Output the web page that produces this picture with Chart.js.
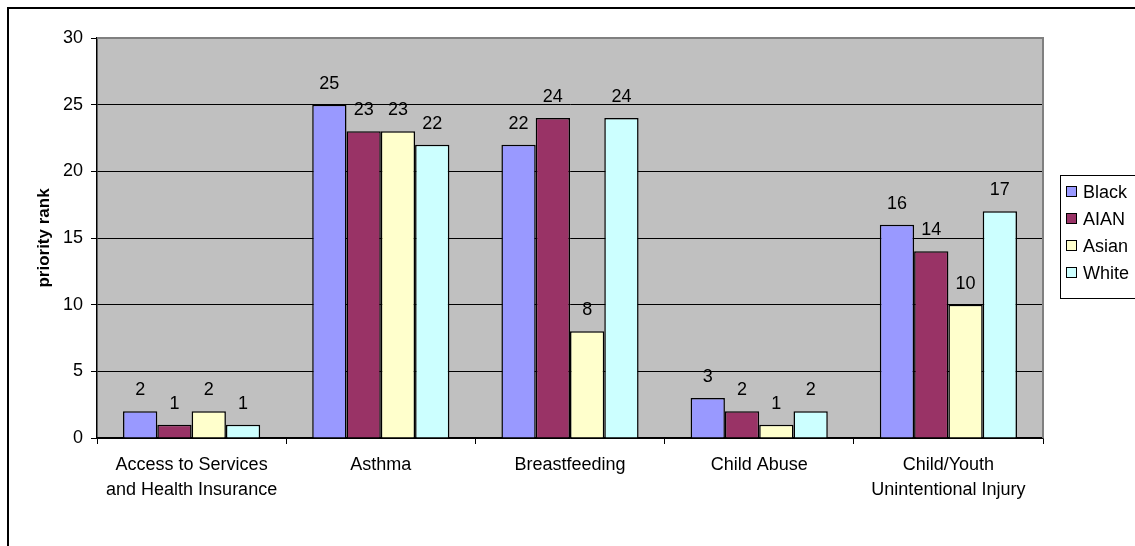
<!DOCTYPE html>
<html>
<head>
<meta charset="utf-8">
<script src="https://cdn.jsdelivr.net/npm/chart.js@4.4.1/dist/chart.umd.min.js"></script>
<style>
  html, body { margin: 0; padding: 0; background: #fff; }
  #wrap { width: 1135px; height: 546px; }
</style>
</head>
<body>
<div id="wrap"><canvas id="rankChart" width="1135" height="546"></canvas></div>
<script>
  const categories = [
    ['Access to Services', 'and Health Insurance'],
    'Asthma',
    'Breastfeeding',
    'Child Abuse',
    ['Child/Youth', 'Unintentional Injury']
  ];
  const seriesNames = ['Black', 'AIAN', 'Asian', 'White'];
  const black = [2, 25, 22, 3, 16];
  const aian = [1, 23, 24, 2, 14];
  const asian = [2, 23, 8, 1, 10];
  const white = [1, 22, 24, 2, 17];
  const yTicks = [0, 5, 10, 15, 20, 25, 30];

  const colors = ['#9999ff', '#993366', '#ffffcc', '#ccffff'];
  const FONT = '"Liberation Sans", Arial, sans-serif';

  // gray plot background + frame lines
  const plotArea = {
    id: 'plotArea',
    beforeDraw(chart) {
      const { ctx, chartArea: a } = chart;
      ctx.save();
      ctx.fillStyle = '#c0c0c0';
      ctx.fillRect(a.left, a.top, a.right - a.left, a.bottom - a.top);
      ctx.restore();
    },
    beforeDatasetsDraw(chart) {
      const { ctx, chartArea: a } = chart;
      ctx.save();
      ctx.strokeStyle = '#808080';
      ctx.lineWidth = 2;
      ctx.beginPath();
      ctx.moveTo(a.left, a.top);
      ctx.lineTo(a.right, a.top);
      ctx.lineTo(a.right, a.bottom);
      ctx.stroke();
      ctx.restore();
    },
    afterDraw(chart) {
      const { ctx } = chart;
      ctx.save();
      ctx.strokeStyle = '#000';
      ctx.lineWidth = 2;
      ctx.strokeRect(8, 8, 1200, 600);
      ctx.restore();
    }
  };

  // value labels above the bars
  const barLabels = {
    id: 'barLabels',
    afterDatasetsDraw(chart) {
      const { ctx } = chart;
      ctx.save();
      ctx.font = '18px ' + FONT;
      ctx.fillStyle = '#000';
      ctx.textAlign = 'center';
      ctx.textBaseline = 'alphabetic';
      chart.data.datasets.forEach((ds, i) => {
        chart.getDatasetMeta(i).data.forEach((bar, j) => {
          ctx.fillText(String(ds.data[j]), bar.x, bar.y - 16);
        });
      });
      ctx.restore();
    }
  };

  // Excel-like boxed legend on the right
  const boxLegend = {
    id: 'boxLegend',
    afterDraw(chart) {
      const { ctx } = chart;
      const x0 = 1060, y0 = 175, w = 90, h = 123;
      ctx.save();
      ctx.fillStyle = '#fff';
      ctx.fillRect(x0, y0, w, h);
      ctx.strokeStyle = '#000';
      ctx.lineWidth = 1;
      ctx.strokeRect(x0 + 0.5, y0 + 0.5, w, h);
      ctx.font = '18px ' + FONT;
      ctx.textBaseline = 'middle';
      chart.data.datasets.forEach((ds, i) => {
        const cy = y0 + 17 + i * 27;
        ctx.fillStyle = ds.backgroundColor;
        ctx.fillRect(x0 + 6.5, cy - 5.5, 10, 10);
        ctx.strokeRect(x0 + 6.5, cy - 5.5, 10, 10);
        ctx.fillStyle = '#000';
        ctx.fillText(ds.label, x0 + 23, cy + 1);
      });
      ctx.restore();
    }
  };

  const series = [black, aian, asian, white];

  new Chart(document.getElementById('rankChart').getContext('2d'), {
    type: 'bar',
    data: {
      labels: categories,
      datasets: series.map((data, i) => ({
        label: seriesNames[i],
        data: data,
        backgroundColor: colors[i],
        borderColor: '#000',
        borderWidth: 1.5,
        borderSkipped: 'bottom',
        categoryPercentage: 0.725,
        barPercentage: 1
      }))
    },
    options: {
      responsive: false,
      animation: false,
      layout: { padding: { left: 0, top: 38, right: 92, bottom: 0 } },
      plugins: {
        legend: { display: false },
        tooltip: { enabled: false }
      },
      scales: {
        x: {
          offset: true,
          afterFit(scale) { scale.height = 108; },
          grid: {
            offset: true,
            drawOnChartArea: false,
            color: '#000',
            tickLength: 6,
            tickColor: '#000'
          },
          border: { color: '#000', width: 1.5 },
          ticks: {
            color: '#000',
            padding: 8,
            maxRotation: 0,
            autoSkip: false,
            font: { family: FONT, size: 18, lineHeight: 1.4 }
          }
        },
        y: {
          min: 0,
          max: 30,
          afterFit(scale) { scale.width = 97; },
          afterBuildTicks(scale) { scale.ticks = yTicks.map(v => ({ value: v })); },
          grid: {
            color: '#000',
            lineWidth: 1,
            tickLength: 6,
            tickColor: '#000'
          },
          border: { color: '#000', width: 1.5 },
          ticks: {
            color: '#000',
            padding: 8,
            font: { family: FONT, size: 18 }
          },
          title: {
            display: true,
            text: 'priority rank',
            color: '#000',
            padding: { top: 34, bottom: 0 },
            font: { family: FONT, size: 17, weight: 'bold' }
          }
        }
      }
    },
    plugins: [plotArea, barLabels, boxLegend]
  });
</script>
</body>
</html>
